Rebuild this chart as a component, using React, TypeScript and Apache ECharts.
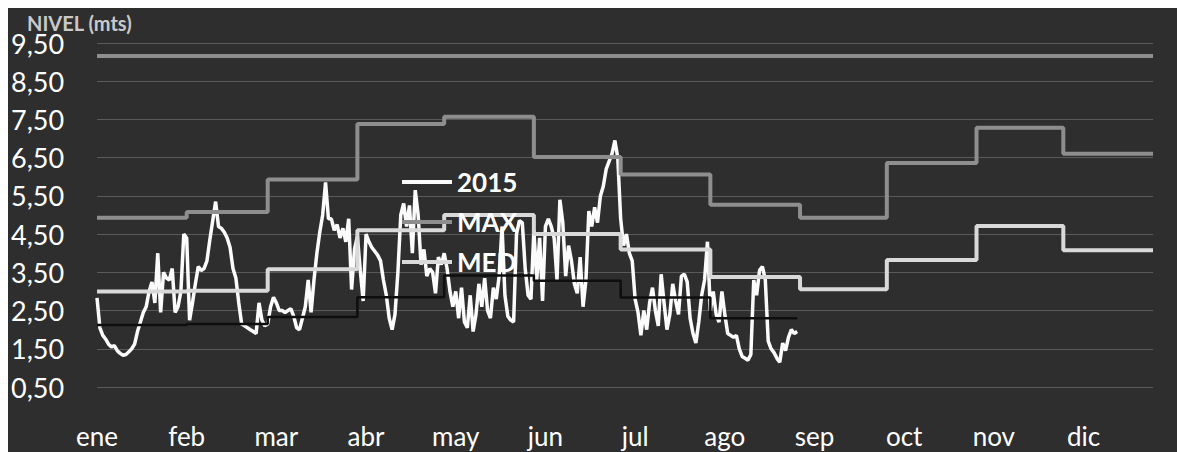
import React, { useEffect, useRef } from "react";
import * as echarts from "echarts";

const monthNames = ["ene", "feb", "mar", "abr", "may", "jun", "jul", "ago", "sep", "oct", "nov", "dic"];
const monthStartDays = [0, 31, 59, 90, 120, 151, 181, 212, 243, 273, 304, 334];
const yearEndDay = 365;

const maxLevels = [4.93, 5.08, 5.93, 7.38, 7.57, 6.52, 6.06, 5.27, 4.93, 6.36, 7.28, 6.6];
const medLevels = [3.0, 3.02, 3.58, 4.6, 5.0, 4.5, 4.1, 3.38, 3.06, 3.82, 4.71, 4.08];
const minLevels = [2.12, 2.15, 2.33, 2.85, 3.42, 3.28, 2.84, 2.3];
const minEndDay = 242;
const topLevel = 9.16;

// daily levels 2015, index = day of year (0 = 1 ene)
const level2015 = [
  2.83, 2.05, 1.85, 1.75, 1.62, 1.55, 1.58, 1.45, 1.38, 1.33,
  1.35, 1.42, 1.5, 1.62, 1.95, 2.2, 2.45, 2.6, 3.0, 3.25,
  2.7, 4.0, 2.45, 3.5, 3.35, 3.3, 3.6, 2.45, 2.6, 3.0,
  4.5, 4.4, 2.25, 2.7, 3.2, 3.65, 3.55, 3.6, 3.8, 4.35,
  4.85, 5.35, 4.7, 4.65, 4.55, 4.4, 4.15, 3.6, 3.35, 2.7,
  2.15, 2.1, 2.05, 2.0, 1.95, 1.9, 2.7, 2.25, 2.1, 2.15,
  2.6, 2.85, 2.7, 2.5, 2.5, 2.45, 2.5, 2.55, 2.35, 2.05,
  2.0, 2.3, 2.6, 3.3, 2.45, 3.3, 4.0, 4.55, 5.0, 5.85,
  4.9, 4.9, 4.6, 4.75, 4.4, 4.65, 4.3, 4.9, 3.05, 4.1,
  4.45, 3.55, 2.75, 4.5, 4.3, 4.15, 4.05, 3.95, 3.8, 3.3,
  2.9, 2.3, 2.0, 2.4, 3.5, 5.0, 5.3, 4.7, 5.25, 4.0,
  5.65, 5.0, 3.7, 4.1, 3.4, 3.6, 3.5, 2.95, 3.9, 3.7,
  4.0, 3.6, 3.0, 2.6, 3.0, 2.3, 3.1, 2.2, 2.05, 2.9,
  1.95, 2.4, 3.2, 2.6, 3.35, 2.5, 2.3, 3.1, 2.8, 3.4,
  4.7, 2.9, 2.35, 2.25, 2.2, 4.5, 4.85, 4.8, 3.6, 2.9,
  2.8, 4.6, 3.3, 4.4, 2.75, 4.7, 4.9, 4.7, 4.4, 3.3,
  5.4, 4.8, 3.4, 4.2, 3.8, 3.2, 2.95, 3.9, 2.6, 3.3,
  5.1, 4.7, 5.2, 4.8, 5.5, 5.75, 6.2, 6.4, 6.6, 6.95,
  6.5, 4.9, 4.2, 4.5, 4.0, 3.8, 2.8, 2.45, 1.85, 2.5,
  2.0, 2.7, 3.1, 2.5, 2.1, 3.45, 2.7, 2.0, 2.4, 3.2,
  2.75, 2.4, 3.4, 3.45, 3.25, 2.3, 1.9, 1.65, 2.2, 2.9,
  3.3, 4.3, 2.5, 3.0, 2.4, 2.2, 3.0, 2.4, 1.9, 1.85,
  1.8, 1.85, 1.5, 1.3, 1.25, 1.2, 1.35, 3.3, 2.9, 3.55,
  3.65, 3.3, 1.7, 1.5, 1.4, 1.25, 1.15, 1.65, 1.45, 1.8,
  2.0, 1.9, 1.95,
];

function stepData(values: number[], endDay: number) {
  const pts: number[][] = values.map((v, i) => [monthStartDays[i], v]);
  pts.push([endDay, values[values.length - 1]]);
  return pts;
}

const FONT = "Lato, 'Open Sans', sans-serif";

export default function App() {
  const ref = useRef<HTMLDivElement>(null);
  useEffect(() => {
    if (!ref.current) return;
    const chart = echarts.init(ref.current, undefined, { renderer: "svg" });
    const option: any = {
      animation: false,
      backgroundColor: "#2e2e2e",
      title: {
        text: "NIVEL (mts)",
        left: 14,
        top: 0,
        textStyle: { color: "#c9c9c9", fontSize: 20, fontWeight: "bold", fontFamily: FONT },
      },
      legend: {
        orient: "vertical",
        left: 389,
        top: 155,
        icon: "rect",
        itemWidth: 50,
        itemHeight: 4,
        itemGap: 12,
        selectedMode: false,
        data: ["2015", "MAX", "MED"],
        textStyle: { color: "#ffffff", fontSize: 26, fontWeight: "bold", fontFamily: FONT, lineHeight: 28 },
      },
      grid: { left: 88, right: 24, top: 35, bottom: 65 },
      xAxis: {
        type: "value",
        min: 0,
        max: yearEndDay,
        interval: 31,
        axisLine: { show: false },
        axisTick: { show: false },
        splitLine: { show: false },
        axisLabel: {
          color: "#ffffff",
          fontSize: 26,
          fontFamily: FONT,
          margin: 36,
          showMaxLabel: false,
          formatter: (v: number) => {
            if (v > 341) return "";
            const d = new Date(Date.UTC(2015, 0, 1 + v));
            return monthNames[d.getUTCMonth()];
          },
        },
      },
      yAxis: {
        type: "value",
        min: 0.5,
        max: 9.5,
        interval: 1,
        axisLine: { show: false },
        axisTick: { show: false },
        splitLine: { lineStyle: { color: "#5a5a5a", width: 1 } },
        axisLabel: {
          color: "#ffffff",
          fontSize: 27,
          fontFamily: FONT,
          align: "left",
          margin: 86,
          formatter: (v: number) => v.toFixed(2).replace(".", ","),
        },
      },
      series: [
        {
          name: "2015",
          type: "line",
          symbol: "none",
          data: level2015.map((v, i) => [i, v]),
          lineStyle: { color: "#fbfbfb", width: 3.5 },
          itemStyle: { color: "#fbfbfb" },
        },
        {
          name: "MAX",
          type: "line",
          step: "end",
          symbol: "none",
          data: stepData(maxLevels, yearEndDay),
          lineStyle: { color: "#8e8e8e", width: 4 },
          itemStyle: { color: "#8e8e8e" },
        },
        {
          name: "MED",
          type: "line",
          step: "end",
          symbol: "none",
          data: stepData(medLevels, yearEndDay),
          lineStyle: { color: "#d9d9d9", width: 4 },
          itemStyle: { color: "#d9d9d9" },
        },
        {
          name: "MIN",
          type: "line",
          step: "end",
          symbol: "none",
          data: stepData(minLevels, minEndDay),
          lineStyle: { color: "#0e0e0e", width: 2.5 },
          itemStyle: { color: "#0e0e0e" },
        },
        {
          name: "TOPE",
          type: "line",
          symbol: "none",
          data: [[0, topLevel], [yearEndDay, topLevel]],
          lineStyle: { color: "#8e8e8e", width: 4 },
          itemStyle: { color: "#8e8e8e" },
        },
      ],
    };
    chart.setOption(option);
    return () => chart.dispose();
  }, []);
  return (
    <div
      ref={ref}
      style={{ position: "absolute", left: 8, top: 8, width: 1169, height: 444 }}
    />
  );
}
